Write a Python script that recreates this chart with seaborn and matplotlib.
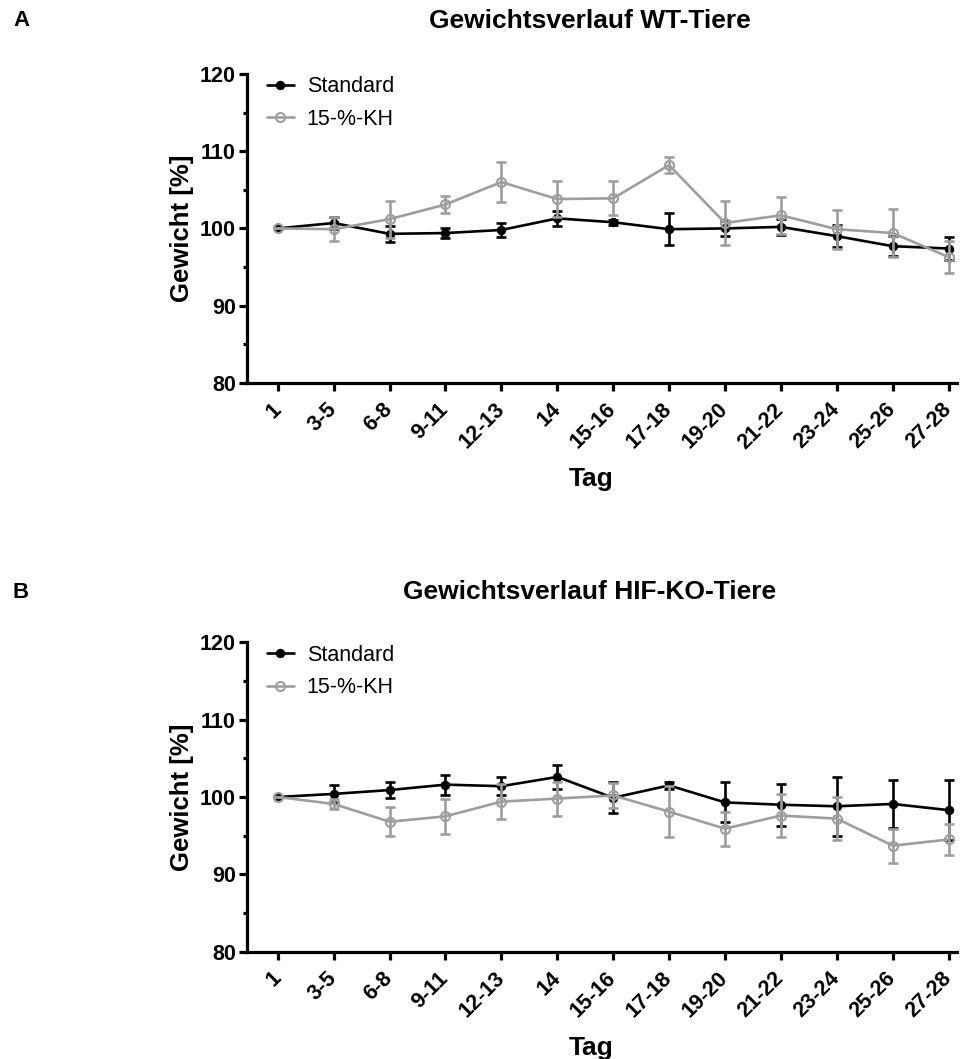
import numpy as np
import pandas as pd
import matplotlib
matplotlib.use("Agg")
import matplotlib.pyplot as plt
import seaborn as sns
from matplotlib.ticker import MultipleLocator

# ---- data ----
days = ["1", "3-5", "6-8", "9-11", "12-13", "14", "15-16", "17-18",
        "19-20", "21-22", "23-24", "25-26", "27-28"]
series_labels = ["Standard", "15-%-KH"]

wt_std_mean = [100.0, 100.7, 99.3, 99.4, 99.8, 101.3, 100.8, 99.9, 100.0, 100.2, 99.0, 97.7, 97.4]
wt_std_err = [0.0, 0.8, 1.0, 0.6, 0.9, 1.0, 0.3, 2.05, 1.0, 1.0, 1.4, 1.3, 1.5]
wt_kh_mean = [100.0, 99.9, 101.2, 103.1, 106.0, 103.8, 103.9, 108.2, 100.7, 101.7, 99.9, 99.4, 96.3]
wt_kh_err = [0.0, 1.55, 2.4, 1.1, 2.6, 2.3, 2.2, 1.0, 2.9, 2.4, 2.5, 3.1, 2.1]

ko_std_mean = [100.0, 100.4, 100.9, 101.6, 101.4, 102.6, 99.9, 101.5, 99.3, 99.0, 98.8, 99.1, 98.3]
ko_std_err = [0.0, 1.1, 1.0, 1.3, 1.15, 1.6, 2.0, 0.4, 2.6, 2.7, 3.8, 3.1, 3.9]
ko_kh_mean = [100.0, 99.1, 96.8, 97.5, 99.4, 99.8, 100.2, 98.1, 95.9, 97.6, 97.2, 93.7, 94.5]
ko_kh_err = [0.0, 0.7, 1.85, 2.3, 2.3, 2.2, 1.6, 3.3, 2.2, 2.8, 2.8, 2.2, 2.0]

y_ticks = [80, 90, 100, 110, 120]
titles = ["Gewichtsverlauf WT-Tiere", "Gewichtsverlauf HIF-KO-Tiere"]
panel_letters = ["A", "B"]

# ---- style ----
sns.set_style("ticks")
plt.rcParams["font.family"] = ["Liberation Sans", "DejaVu Sans"]
plt.rcParams["text.color"] = "black"
plt.rcParams["axes.labelcolor"] = "black"
plt.rcParams["xtick.color"] = "black"
plt.rcParams["ytick.color"] = "black"
plt.rcParams["axes.edgecolor"] = "black"

BLACK = "#000000"
GRAY = "#9E9E9E"

fig = plt.figure(figsize=(9.66, 10.59), dpi=100)
axA = fig.add_axes([0.2557, 0.6384, 0.735, 0.2918])
axB = fig.add_axes([0.2557, 0.1015, 0.735, 0.2918])


def draw(ax, std_m, std_e, kh_m, kh_e):
    pos = np.arange(len(days))
    df = pd.DataFrame({"pos": pos, "std": std_m, "kh": kh_m})
    sns.lineplot(data=df, x="pos", y="std", ax=ax, color=BLACK, lw=1.9,
                 marker="o", markersize=6, markeredgecolor=BLACK,
                 markerfacecolor=BLACK, label=series_labels[0],
                 errorbar=None, sort=False, zorder=3)
    ax.errorbar(pos, std_m, yerr=std_e, fmt="none", ecolor=BLACK,
                elinewidth=1.9, capsize=3.8, capthick=1.9, zorder=2.9)
    sns.lineplot(data=df, x="pos", y="kh", ax=ax, color=GRAY, lw=1.9,
                 marker="o", markersize=6.5, markeredgecolor=GRAY,
                 markerfacecolor="none", markeredgewidth=1.5,
                 label=series_labels[1], errorbar=None, sort=False, zorder=4)
    ax.errorbar(pos, kh_m, yerr=kh_e, fmt="none", ecolor=GRAY,
                elinewidth=1.9, capsize=3.8, capthick=1.9, zorder=3.9)

    ax.set_xlim(-0.55, 12.15)
    ax.set_ylim(80, 120)
    ax.set_yticks(y_ticks)
    ax.yaxis.set_minor_locator(MultipleLocator(5))
    ax.set_xticks(pos)
    ax.set_xticklabels(days, rotation=45, ha="right", va="center",
                       rotation_mode="anchor", fontweight="bold", fontsize=15.5)
    for lab in ax.get_yticklabels():
        lab.set_fontweight("bold")
        lab.set_fontsize(15.5)
    sns.despine(ax=ax)
    for side in ["left", "bottom"]:
        ax.spines[side].set_linewidth(2.3)
        ax.spines[side].set_color(BLACK)
    ax.tick_params(axis="both", which="major", length=6, width=2.3,
                   direction="out", color=BLACK, labelcolor=BLACK)
    ax.tick_params(axis="x", which="major", pad=11)
    ax.tick_params(axis="y", which="major", pad=2)
    ax.tick_params(axis="y", which="minor", length=3, width=2.3, color=BLACK)
    ax.set_ylabel("Gewicht [%]", fontsize=18.5, fontweight="bold", color=BLACK)
    ax.yaxis.set_label_coords(-0.075, 0.5)
    ax.set_xlabel("Tag", fontsize=19, fontweight="bold", color=BLACK)
    ax.xaxis.set_label_coords(0.485, -0.272)
    handles, labels = ax.get_legend_handles_labels()
    leg = ax.legend(handles, labels, loc="upper left",
                    bbox_to_anchor=(0.028, 0.993),
                    frameon=False, fontsize=15.5, handlelength=1.25,
                    handletextpad=0.6, labelspacing=0.55, borderpad=0,
                    borderaxespad=0)
    for t in leg.get_texts():
        t.set_color(BLACK)


draw(axA, wt_std_mean, wt_std_err, wt_kh_mean, wt_kh_err)
draw(axB, ko_std_mean, ko_std_err, ko_kh_mean, ko_kh_err)

for ypix, letter, title in zip([21, 592], panel_letters, titles):
    fig.text(13 / 966, 1 - ypix / 1059, letter, fontsize=16, fontweight="bold",
             ha="left", va="center", color=BLACK)
    fig.text(590 / 966, 1 - ypix / 1059, title, fontsize=19,
             fontweight="bold", ha="center", va="center", color=BLACK)

fig.savefig("out.png", dpi=100)
